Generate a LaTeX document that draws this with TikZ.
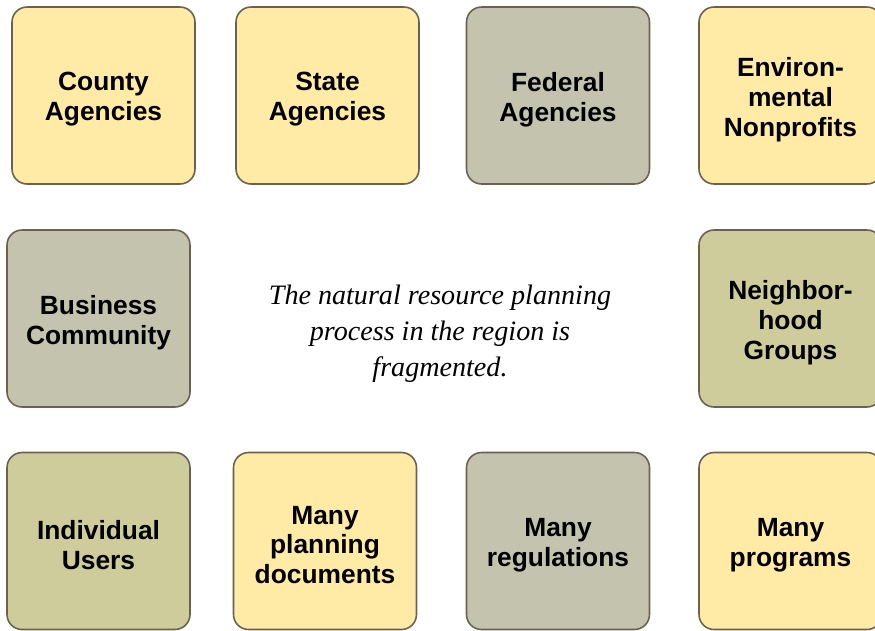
\documentclass[tikz,border=0pt]{standalone}
\usepackage{fontspec}
\setmainfont{Liberation Sans}
\newfontfamily\captionfont{Liberation Serif}

\definecolor{boxyellow}{HTML}{FFEBA5}
\definecolor{boxgrey}{HTML}{C4C3AE}
\definecolor{boxolive}{HTML}{CECC9A}
\definecolor{boxline}{HTML}{6B6152}

\tikzset{
    actor/.style={draw=boxline, line width=0.9pt, rounded corners=0.3cm,
        minimum width=3.66cm, minimum height=3.54cm,
        label={[align=center, yshift=-0.08cm, font=\fontsize{15}{17}\selectfont\bfseries]center:#1}},
}

\begin{document}
\begin{tikzpicture}[x=0.02cm, y=-0.02cm]

    \clip (0,0) rectangle (875,630);
    \fill[white] (0,0) rectangle (875,630);

    % top row
    \node[actor={County\\Agencies}, fill=boxyellow] (county) at (103.5,95.5) {};
    \node[actor={State\\Agencies}, fill=boxyellow] (state) at (327.5,95.5) {};
    \node[actor={Federal\\Agencies}, fill=boxgrey] (federal) at (558,95.5) {};
    \node[actor={Environ-\\mental\\Nonprofits}, fill=boxyellow] (enviro) at (790.5,95.5) {};

    % middle row
    \node[actor={Business\\Community}, fill=boxgrey] (business) at (98.5,318.5) {};
    \node[actor={Neighbor-\\hood\\Groups}, fill=boxolive] (neighbor) at (790.5,318.5) {};

    \node[align=center, font=\captionfont\itshape\fontsize{16}{20.5}\selectfont] (fragmented) at (440,334)
        {The natural resource planning\\process in the region is\\fragmented.};

    % bottom row
    \node[actor={Individual\\Users}, fill=boxolive] (users) at (98.5,541) {};
    \node[actor={Many\\planning\\documents}, fill=boxyellow] (documents) at (325,541) {};
    \node[actor={Many\\regulations}, fill=boxgrey] (regulations) at (558,541) {};
    \node[actor={Many\\programs}, fill=boxyellow] (programs) at (790.5,541) {};

\end{tikzpicture}
\end{document}
